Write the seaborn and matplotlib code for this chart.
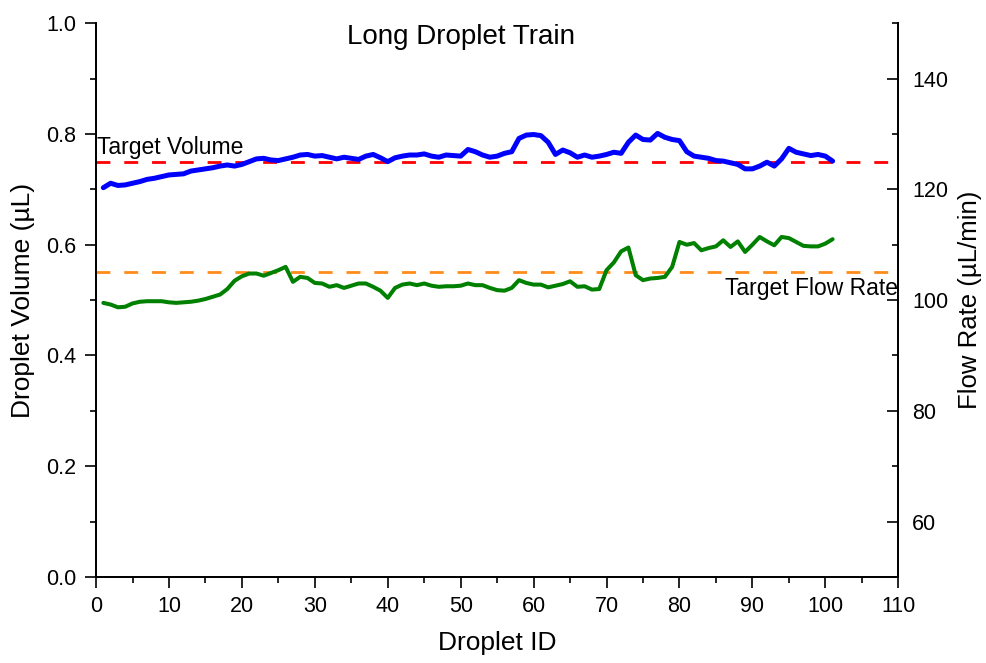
import numpy as np
import pandas as pd
import matplotlib
matplotlib.use("Agg")
import matplotlib.pyplot as plt
from matplotlib.ticker import MultipleLocator
import seaborn as sns

droplet_id = list(range(1, 102))

volume = [0.703, 0.711, 0.707, 0.708, 0.711, 0.714, 0.718, 0.720, 0.723, 0.726,
          0.727, 0.728, 0.733, 0.735, 0.737, 0.739, 0.742, 0.744, 0.742, 0.745,
          0.750, 0.755, 0.756, 0.753, 0.752, 0.755, 0.758, 0.762, 0.763, 0.760,
          0.761, 0.758, 0.755, 0.758, 0.756, 0.754, 0.760, 0.763, 0.757, 0.750,
          0.757, 0.760, 0.762, 0.762, 0.764, 0.760, 0.758, 0.762, 0.761, 0.760,
          0.772, 0.768, 0.762, 0.758, 0.760, 0.765, 0.768, 0.792, 0.798, 0.799,
          0.797, 0.785, 0.763, 0.771, 0.766, 0.758, 0.762, 0.758, 0.760, 0.763,
          0.767, 0.765, 0.785, 0.798, 0.790, 0.789, 0.801, 0.794, 0.790, 0.788,
          0.768, 0.760, 0.758, 0.756, 0.752, 0.751, 0.748, 0.745, 0.737, 0.737,
          0.742, 0.749, 0.742, 0.755, 0.774, 0.767, 0.764, 0.761, 0.763, 0.760,
          0.751]

flow_rate = [99.5, 99.2, 98.7, 98.8, 99.4, 99.7, 99.8, 99.8, 99.8, 99.6,
             99.5, 99.6, 99.7, 99.9, 100.2, 100.6, 101.0, 102.0, 103.5, 104.3,
             104.8, 104.8, 104.4, 104.9, 105.4, 106.0, 103.3, 104.2, 104.0, 103.1,
             103.0, 102.4, 102.7, 102.2, 102.6, 103.0, 103.0, 102.4, 101.7, 100.4,
             102.2, 102.8, 103.0, 102.7, 103.0, 102.6, 102.4, 102.5, 102.5, 102.6,
             103.0, 102.7, 102.7, 102.2, 101.8, 101.7, 102.2, 103.6, 103.1, 102.8,
             102.8, 102.3, 102.6, 102.9, 103.4, 102.4, 102.5, 101.9, 102.0, 105.4,
             106.8, 108.8, 109.5, 104.5, 103.6, 103.9, 104.0, 104.2, 106.0, 110.5,
             110.0, 110.3, 109.0, 109.4, 109.7, 110.8, 109.6, 110.6, 108.7, 110.0,
             111.4, 110.6, 109.9, 111.4, 111.2, 110.5, 109.8, 109.7, 109.7, 110.2,
             111.0]

target_volume = 0.75
target_flow = 105

df = pd.DataFrame({"id": droplet_id, "volume": volume, "flow": flow_rate})

sns.set_style("ticks")
plt.rcParams["font.family"] = ["Liberation Sans", "DejaVu Sans"]
plt.rcParams["text.color"] = "black"
plt.rcParams["axes.labelcolor"] = "black"
plt.rcParams["xtick.color"] = "black"
plt.rcParams["ytick.color"] = "black"
plt.rcParams["axes.edgecolor"] = "black"

fig = plt.figure(figsize=(9.86, 6.63), dpi=100)
ax = fig.add_axes([0.0974, 0.1297, 0.8136, 0.8353])
ax2 = ax.twinx()

ax.axhline(target_volume, color="#ff0000", lw=2, dashes=(5, 5), zorder=1)
ax2.axhline(target_flow, color="#ff8c1a", lw=2, dashes=(5, 5), zorder=1)
sns.lineplot(data=df, x="id", y="volume", ax=ax, color="#0000ff", lw=3.6)
sns.lineplot(data=df, x="id", y="flow", ax=ax2, color="#008000", lw=2.9)

ax.set_xlim(0, 110)
ax.set_ylim(0, 1.0)
ax2.set_ylim(50, 150)
ax.xaxis.set_major_locator(MultipleLocator(10))
ax.xaxis.set_minor_locator(MultipleLocator(5))
ax.yaxis.set_major_locator(MultipleLocator(0.2))
ax.yaxis.set_minor_locator(MultipleLocator(0.1))
ax2.yaxis.set_minor_locator(MultipleLocator(10))
ax2.set_yticks([60, 80, 100, 120, 140])
ax.yaxis.set_major_formatter(matplotlib.ticker.FormatStrFormatter("%.1f"))

for a in (ax, ax2):
    a.spines["top"].set_visible(False)
    for s in ("left", "bottom", "right"):
        a.spines[s].set_visible(True)
        a.spines[s].set_linewidth(1.3)
        a.spines[s].set_color("black")

ax.tick_params(which="major", length=8, width=1.2, labelsize=15.5, pad=6, colors="black")
ax.tick_params(which="minor", length=4.5, width=1.2)
ax2.tick_params(which="major", direction="in", length=8, width=1.2, labelsize=15.5,
                pad=10, colors="black")
ax2.tick_params(which="minor", direction="in", length=4.5, width=1.2)

ax.set_xlabel("Droplet ID", fontsize=19, labelpad=10)
ax.set_ylabel("Droplet Volume (µL)", fontsize=19, labelpad=8)
ax2.set_ylabel("Flow Rate (µL/min)", fontsize=18.5, labelpad=7)

ax.text(50, 0.975, "Long Droplet Train", ha="center", va="center", fontsize=20)
ax.text(0.2, 0.755, "Target Volume", ha="left", va="bottom", fontsize=16.5)
ax2.text(109.9, 104.2, "Target Flow Rate", ha="right", va="top", fontsize=16.5)

fig.savefig("out.png", dpi=100)
